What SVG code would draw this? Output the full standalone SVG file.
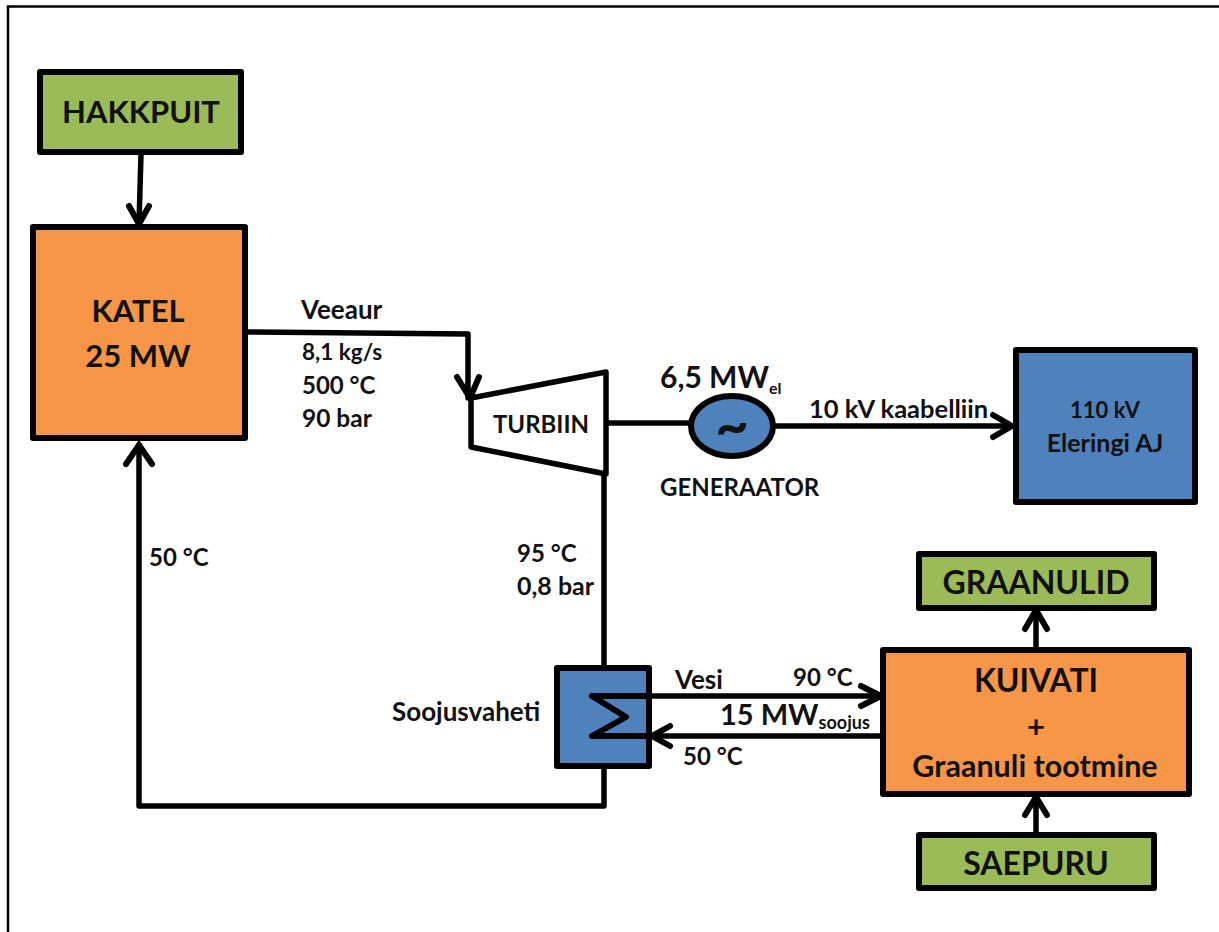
<svg xmlns="http://www.w3.org/2000/svg" width="1219" height="932" viewBox="0 0 1219 932">
<style>
text{font-family:Lato,"Liberation Sans",sans-serif;font-weight:700;fill:#111}
.box{stroke:#000;stroke-width:6;stroke-linejoin:round}
.g{fill:#9bbb59}.o{fill:#f79646}.b{fill:#4f81bd}
.l{fill:none;stroke:#000;stroke-width:5.500;stroke-linejoin:round;stroke-linecap:round}
.a{fill:none;stroke:#000;stroke-width:6;stroke-linecap:round;stroke-linejoin:miter}
.m{text-anchor:middle}.s14{font-size:24px}.w{font-size:26px}.s12{font-size:22px}.s16{font-size:31px}
</style>
<rect width="1219" height="932" fill="#fff"/>
<path d="M8 932V6.500H1219" fill="none" stroke="#000" stroke-width="2.500"/>
<g id="connectors">
<path class="l" d="M141 154L139 224"/><path class="a" d="M129 206L139 224L149 206"/>
<path class="l" d="M246 332L468 334V398"/><path class="a" d="M457 377L470 398L479 377"/>
<path class="l" d="M608 423H690"/>
<path class="l" d="M774 426H1012"/><path class="a" d="M993 415L1012 426L993 437"/>
<path class="l" d="M604 474V666"/>
<path class="l" d="M604 767V806H139V445"/><path class="a" d="M126 464L139 445L152 464"/>
<path class="l" d="M592 696H881"/><path class="a" d="M861 686L881 696L861 706"/>
<path class="l" d="M881 736H652"/><path class="a" d="M670 726L652 736L670 746"/>
<path class="l" d="M1036 835V796"/><path class="a" d="M1025 815L1036 797L1047 815"/>
<path class="l" d="M1036 649V610"/><path class="a" d="M1025 629L1036 610L1047 629"/>
</g>
<g id="hakkpuit"><rect class="box g" x="40" y="72" width="201" height="80"/><text class="m s16" x="141" y="123">HAKKPUIT</text></g>
<g id="katel"><rect class="box o" x="33" y="227" width="212" height="211"/><text class="m s16" x="138" y="322">KATEL</text><text class="m s16" x="138" y="367">25 MW</text></g>
<g id="turbiin"><path d="M471 398L606 372V474L471 447Z" fill="#fff" stroke="#000" stroke-width="5.500" stroke-linejoin="round"/><text class="m s14" x="541" y="433">TURBIIN</text></g>
<g id="generaator"><ellipse class="b" cx="732" cy="426" rx="41" ry="30" stroke="#000" stroke-width="6"/><text class="m" x="732" y="446" font-size="58" font-family="Liberation Sans">~</text></g>
<g id="eleringi"><rect class="box b" x="1016" y="350" width="179" height="152"/><text class="m s12" x="1105" y="418">110 kV</text><text class="m" font-size="25" x="1105" y="452">Eleringi AJ</text></g>
<g id="graanulid"><rect class="box g" x="919" y="554" width="235" height="54"/><text class="m" font-size="32" x="1036" y="594">GRAANULID</text></g>
<g id="kuivati"><rect class="box o" x="883" y="650" width="306" height="144"/><text class="m" font-size="32" x="1036" y="692">KUIVATI</text><text class="m s16" x="1036" y="738">+</text><text class="m" x="1035" y="777" font-size="30.500">Graanuli tootmine</text></g>
<g id="saepuru"><rect class="box g" x="919" y="835" width="235" height="53"/><text class="m" font-size="32" x="1036" y="875">SAEPURU</text></g>
<g id="soojusvaheti"><rect class="box b" x="557" y="668" width="92" height="98"/><path class="l" d="M592 696H648M592 696L626 717L592 736H648" style="stroke-width:6"/><text class="w" x="392" y="721">Soojusvaheti</text></g>
<g id="labels">
<text class="w" x="301" y="319">Veeaur</text>
<text font-size="22.500" x="302" y="360">8,1 kg/s</text>
<text class="s14" x="302" y="394">500 °C</text>
<text font-size="24.500" x="302" y="427">90 bar</text>
<text class="s14" x="149" y="566">50 °C</text>
<text class="s14" x="517" y="562">95 °C</text>
<text font-size="25" x="517" y="595">0,8 bar</text>
<text x="660" y="388" font-size="30">6,5 MW<tspan font-size="16" dy="6">el</tspan></text>
<text class="s14" x="660" y="496">GENERAATOR</text>
<text font-size="25.500" x="809" y="418">10 kV kaabelliin</text>
<text class="w" x="675" y="689">Vesi</text>
<text class="s14" x="793" y="686">90 °C</text>
<text x="720" y="725" font-size="29">15 MW<tspan font-size="18" dy="4">soojus</tspan></text>
<text class="s14" x="683" y="765">50 °C</text>
</g>
</svg>
